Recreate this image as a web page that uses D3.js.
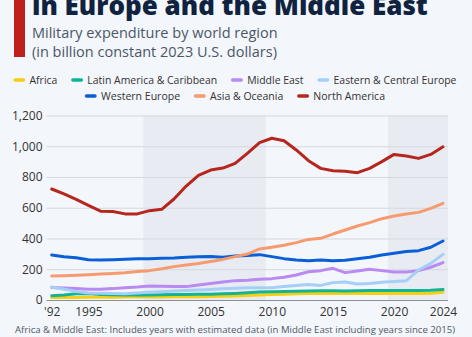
<!DOCTYPE html>
<html>
<head>
<meta charset="utf-8">
<script src="https://cdn.jsdelivr.net/npm/d3@7"></script>
<style>
  body { margin: 0; background: #f3f6fa; }
  svg { display: block; font-family: 'Open Sans', sans-serif; }
</style>
</head>
<body>
<div id="chart"></div>
<script>
var width = 472, height = 337

// data, billion constant 2023 USD
var years = d3.range(1992, 2025)
var northAmerica = [722, 690, 655, 615, 578, 575, 560, 560, 581, 590, 657, 741, 811, 845, 858, 889, 954, 1023, 1052, 1036, 976, 906, 856, 841, 837, 828, 856, 900, 947, 937, 921, 947, 997]
var asiaOceania = [156, 158, 161, 165, 169, 173, 178, 185, 191, 203, 217, 227, 238, 251, 264, 282, 299, 332, 343, 356, 373, 394, 401, 429, 455, 481, 503, 529, 546, 559, 570, 596, 629]
var westernEurope = [293, 282, 275, 262, 260, 262, 265, 268, 269, 271, 273, 278, 282, 283, 278, 286, 290, 295, 282, 269, 260, 256, 260, 256, 258, 269, 278, 293, 304, 315, 321, 343, 384]
var middleEast = [82, 78, 74, 70, 70, 74, 80, 84, 91, 89, 87, 87, 98, 108, 117, 126, 128, 135, 139, 148, 163, 184, 191, 206, 178, 189, 200, 191, 182, 182, 191, 213, 243]
var easternEurope = [84, 70, 55, 46, 44, 42, 40, 45, 50, 54, 58, 61, 65, 69, 73, 77, 80, 80, 80, 88, 95, 101, 95, 113, 117, 104, 108, 115, 121, 126, 195, 238, 297]
var latinAmerica = [28, 33, 40, 43, 36, 34, 33, 33, 32, 34, 35, 36, 37, 38, 40, 43, 47, 52, 54, 55, 57, 58, 60, 60, 59, 60, 61, 61, 61, 62, 62, 64, 68]
var africa = [16, 16, 17, 18, 18, 18, 19, 20, 20, 20, 21, 21, 21, 22, 24, 26, 30, 33, 36, 38, 40, 42, 44, 43, 42, 42, 42, 42, 43, 43, 43, 44, 50]

var seriesNames = ['Africa', 'Latin America & Caribbean', 'Middle East', 'Eastern & Central Europe', 'Western Europe', 'Asia & Oceania', 'North America']
var seriesValues = [africa, latinAmerica, middleEast, easternEurope, westernEurope, asiaOceania, northAmerica]
var seriesColors = ['#f5cf14', '#13b394', '#b98af2', '#a6cff7', '#0a5fd8', '#f79b6f', '#b5261e']

var yTicks = [0, 200, 400, 600, 800, 1000, 1200]
var xTicks = [1992, 1995, 2000, 2005, 2010, 2015, 2020, 2024]
var bands = [[1999.5, 2009.5], [2019.5, 2024.4]]

var svg = d3.select('#chart').append('svg')
  .attr('width', width)
  .attr('height', height)

svg.append('rect')
  .attr('width', width)
  .attr('height', height)
  .attr('fill', '#f3f6fa')

// scale a text's font size so it takes the given width
function fitText(sel, target, start) {
  var w = sel.node().getComputedTextLength()
  sel.style('font-size', (start * target / w) + 'px')
}

// title block
svg.append('rect')
  .attr('x', 14).attr('y', 0)
  .attr('width', 11).attr('height', 57)
  .attr('fill', '#c0201c')

var title = svg.append('text')
  .attr('x', 32).attr('y', 15)
  .attr('fill', '#0f2341')
  .style('font-weight', 800)
  .style('font-size', '28px')
  .text('in Europe and the Middle East')
fitText(title, 396, 28)

svg.append('text')
  .attr('x', 32).attr('y', 38)
  .attr('fill', '#4b5668')
  .style('font-size', '14.5px')
  .text('Military expenditure by world region')
svg.append('text')
  .attr('x', 32).attr('y', 57)
  .attr('fill', '#4b5668')
  .style('font-size', '14.5px')
  .text('(in billion constant 2023 U.S. dollars)')

// legend, two centred rows, each squeezed to its width if needed
var legendRows = [[0, 1, 2, 3], [4, 5, 6]]
var rowWidths = [443, 300]
legendRows.forEach(function(row, r) {
  var g = svg.append('g')
  var texts = row.map(function(i) {
    return g.append('text')
      .attr('dy', '0.35em')
      .attr('fill', '#333')
      .style('font-size', '11.2px')
      .text(seriesNames[i])
  })
  var natural = d3.sum(texts, function(t) { return t.node().getComputedTextLength() })
  var fixed = row.length * 16 + (row.length - 1) * 14
  var k = Math.min(1, (rowWidths[r] - fixed) / natural)
  var x = 0
  row.forEach(function(i, j) {
    var tl = texts[j].node().getComputedTextLength() * k
    g.append('line')
      .attr('x1', x + 1.5).attr('x2', x + 10)
      .attr('y1', 0).attr('y2', 0)
      .attr('stroke', seriesColors[i])
      .attr('stroke-width', 3.5)
      .attr('stroke-linecap', 'round')
    texts[j].attr('x', x + 16)
    if (k < 1) texts[j].attr('textLength', tl).attr('lengthAdjust', 'spacingAndGlyphs')
    x += 16 + tl + 14
  })
  var w = x - 14
  g.attr('transform', 'translate(' + (235 - w / 2) + ',' + (r === 0 ? 80 : 96) + ')')
})

// scales
var x = d3.scaleLinear().domain([1992, 2024]).range([51.7, 443])
var y = d3.scaleLinear().domain([0, 1200]).range([300, 115.5])
var plotLeft = 46.5, plotRight = 448

svg.selectAll('.band')
  .data(bands)
  .enter().append('rect')
    .attr('class', 'band')
    .attr('x', function(d) { return x(d[0]) })
    .attr('width', function(d) { return Math.min(x(d[1]), plotRight) - x(d[0]) })
    .attr('y', y(1200))
    .attr('height', y(0) - y(1200))
    .attr('fill', '#e8ecf2')

var gy = svg.append('g')
  .attr('transform', 'translate(' + plotLeft + ',0)')
  .call(d3.axisLeft(y).tickValues(yTicks).tickSize(-(plotRight - plotLeft)).tickPadding(4).tickFormat(d3.format(',')))
gy.select('.domain').remove()
gy.selectAll('.tick line')
  .attr('stroke', function(d) { return d === 0 ? '#8a9099' : '#d3d9e1' })
  .attr('stroke-width', function(d) { return d === 0 ? 1.2 : 1 })
gy.selectAll('.tick text')
  .attr('fill', '#333')
  .style('font-size', '12px')
  .style('font-family', 'Open Sans, sans-serif')

var gx = svg.append('g')
  .attr('transform', 'translate(0,' + y(0) + ')')
  .call(d3.axisBottom(x).tickValues(xTicks).tickSize(0).tickPadding(7)
    .tickFormat(function(d) { return d === 1992 ? "'92" : d }))
gx.select('.domain').remove()
gx.selectAll('.tick text')
  .attr('fill', '#333')
  .style('font-size', '12px')
  .style('font-family', 'Open Sans, sans-serif')

// lines
var line = d3.line()
  .x(function(d, i) { return x(years[i]) })
  .y(function(d) { return y(d) })

svg.selectAll('.series')
  .data(seriesValues)
  .enter().append('path')
    .attr('class', 'series')
    .attr('d', function(d) { return line(d) })
    .attr('fill', 'none')
    .attr('stroke', function(d, i) { return seriesColors[i] })
    .attr('stroke-width', 3)
    .attr('stroke-linejoin', 'round')
    .attr('stroke-linecap', 'round')

var note = svg.append('text')
  .attr('x', 15).attr('y', 333)
  .attr('fill', '#505866')
  .style('font-size', '10.4px')
  .text('Africa & Middle East: Includes years with estimated data (in Middle East including years since 2015)')
fitText(note, 440, 10.4)
</script>
</body>
</html>
